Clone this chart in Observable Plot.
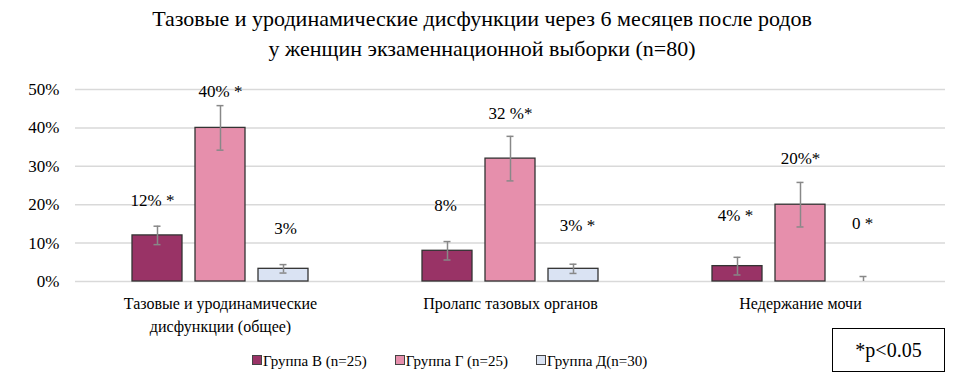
<!DOCTYPE html>
<html><head><meta charset="utf-8">
<script src="https://cdn.jsdelivr.net/npm/d3@7"></script>
<script src="https://cdn.jsdelivr.net/npm/@observablehq/plot@0.6"></script>
</head>
<body style="margin:0;font-family:'Liberation Serif';">
<div id="title" style="position:absolute;left:0;top:4px;width:964px;text-align:center;font-size:22px;line-height:30px;color:#000;font-family:'Liberation Serif';">Тазовые и уродинамические дисфункции через 6 месяцев после родов<br>у женщин экзаменнационной выборки (n=80)</div>
<div id="chart" style="position:absolute;left:0;top:68px;font-family:'Liberation Serif';"></div>
<div id="legend" style="position:absolute;left:252px;top:353px;font-size:15px;display:flex;gap:28px;color:#000;font-family:'Liberation Serif';"></div>
<div id="note" style="position:absolute;left:832px;top:328px;width:111px;height:42px;border:1px solid #000;font-size:20px;line-height:42px;text-align:center;font-family:'Liberation Serif';">*p&lt;0.05</div>
<script>
const categories = ["Тазовые и уродинамические дисфункции (общее)", "Пролапс тазовых органов", "Недержание мочи"];
const categoryTickLabels = ["Тазовые и уродинамические\nдисфункции (общее)", "Пролапс тазовых органов", "Недержание мочи"];
const groups = ["Группа В (n=25)", "Группа Г (n=25)", "Группа Д(n=30)"];
const valuesB = [12, 8, 4];
const valuesG = [40, 32, 20];
const valuesD = [3.3, 3.3, 0];
const errB = [2.4, 2.4, 2.3];
const errG = [5.8, 5.8, 5.8];
const errD = [1.1, 1.2, 1.3];
const labelsB = ["12% *", "8%", "4% *"];
const labelsG = ["40% *", "32 %*", "20%*"];
const labelsD = ["3%", "3% *", "0 *"];
const yTicks = [0, 10, 20, 30, 40, 50];

// layout only: pixel offsets of value labels relative to error-bar tops
const labelDyB = [-26, -36, -42];
const labelDyG = [-14, -23, -24];
const labelDyD = [-36, -39, -53];
const labelDxB = [-5, -2, -2];
const labelDxG = [0, 0, 0];
const labelDxD = [2, 4, -1];

const colors = ["#993366", "#E68FAC", "#DAE3F3"];
const FONT = "'Liberation Serif'";

const series = [
  {vals: valuesB, errs: errB, labels: labelsB, dys: labelDyB, dxs: labelDxB},
  {vals: valuesG, errs: errG, labels: labelsG, dys: labelDyG, dxs: labelDxG},
  {vals: valuesD, errs: errD, labels: labelsD, dys: labelDyD, dxs: labelDxD}
];
const data = [];
series.forEach((s, gi) => {
  categories.forEach((c, ci) => {
    const v = s.vals[ci], e = s.errs[ci];
    data.push({cat: c, group: groups[gi], value: v, lo: Math.max(0, v - e), hi: v + e, label: s.labels[ci], dy: s.dys[ci], dx: s.dxs[ci]});
  });
});

const tickMap = new Map(categories.map((c, i) => [c, categoryTickLabels[i]]));

const textMarks = data.map(d => Plot.text([d], {
  fx: "cat", x: "group", y: "hi", text: "label", dy: d.dy, dx: d.dx,
  fontSize: 17, fill: "#000"
}));

const chart = Plot.plot({
  width: 974,
  height: 270,
  marginLeft: 75,
  marginRight: 29,
  marginTop: 21,
  marginBottom: 57,
  style: {fontFamily: FONT, fontSize: "17px", color: "#000", background: "#fff"},
  fx: {domain: categories, paddingInner: 0, paddingOuter: 0, label: null},
  x: {domain: groups, paddingInner: 0.2, paddingOuter: 0.866, axis: null},
  y: {domain: [0, 50], label: null},
  color: {domain: groups, range: colors},
  marks: [
    Plot.ruleY(yTicks, {stroke: "#d9d9d9", strokeWidth: 1.5}),
    Plot.axisY({ticks: yTicks, tickSize: 0, tickPadding: 16, tickFormat: d => d + "%", label: null, fontSize: 17, fill: "#000"}),
    Plot.axisFx({anchor: "bottom", tickSize: 0, tickPadding: 12, label: null, tickFormat: d => tickMap.get(d), lineHeight: 1.4, fontSize: 16, fill: "#000"}),
    Plot.barY(data, {fx: "cat", x: "group", y: "value", fill: "group", stroke: "#333", strokeWidth: 1.3}),
    Plot.ruleX(data, {fx: "cat", x: "group", y1: "lo", y2: "hi", stroke: "#888", strokeWidth: 1.5}),
    Plot.tickY(data, {fx: "cat", x: "group", y: "hi", stroke: "#888", strokeWidth: 1.5, insetLeft: 21.5, insetRight: 21.5}),
    Plot.tickY(data.filter(d => d.lo > 0), {fx: "cat", x: "group", y: "lo", stroke: "#888", strokeWidth: 1.5, insetLeft: 21.5, insetRight: 21.5}),
    ...textMarks
  ]
});
document.getElementById("chart").appendChild(chart);

const legend = document.getElementById("legend");
groups.forEach((g, i) => {
  const item = document.createElement("div");
  item.style.fontFamily = FONT;
  item.innerHTML = `<span style="display:inline-block;width:8px;height:8px;border:1px solid #444;margin-right:1px;vertical-align:1px;background:${colors[i]}"></span>${g}`;
  legend.appendChild(item);
});
</script>
</body></html>
